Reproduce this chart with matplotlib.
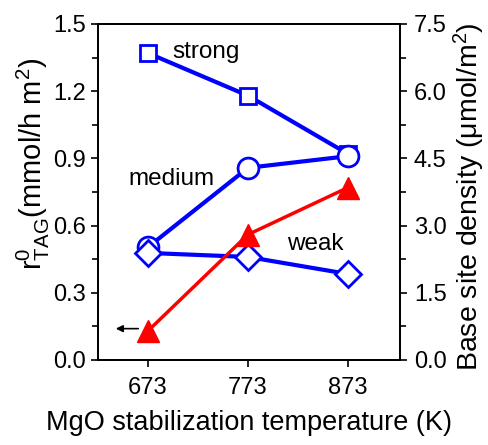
import matplotlib
matplotlib.use("Agg")
import matplotlib.pyplot as plt
from matplotlib.ticker import MultipleLocator

plt.rcParams['font.family'] = ['Liberation Sans', 'DejaVu Sans']
plt.rcParams['mathtext.fontset'] = 'custom'
plt.rcParams['mathtext.rm'] = 'Liberation Sans'
plt.rcParams['mathtext.it'] = 'Liberation Sans'

temps = [673, 773, 873]
rate_tag = [0.13, 0.56, 0.77]
strong = [6.85, 5.90, 4.60]
medium = [2.52, 4.29, 4.55]
weak = [2.39, 2.30, 1.92]

fig = plt.figure(figsize=(4.88, 4.45), dpi=100)
ax = fig.add_axes([98/488, 1-360/445, 302/488, 336/445])
ax2 = ax.twinx()

ax.plot(temps, rate_tag, color='red', lw=2.5, marker='^', ms=16, mfc='red', mec='red', zorder=3)
ax2.plot(temps, strong, color='blue', lw=3, marker='s', ms=12, mfc='white', mec='blue', mew=2)
ax2.plot(temps, medium, color='blue', lw=3, marker='o', ms=15, mfc='white', mec='blue', mew=2)
ax2.plot(temps, weak, color='blue', lw=3, marker='D', ms=13, mfc='white', mec='blue', mew=2)
ax.set_zorder(ax2.get_zorder() + 1)
ax.patch.set_visible(False)

ax.set_xlim(623, 925)
ax.set_ylim(0, 1.5)
ax2.set_ylim(0, 7.5)
ax.set_xticks(temps)
ax.yaxis.set_major_locator(MultipleLocator(0.3))
ax.yaxis.set_minor_locator(MultipleLocator(0.15))
ax2.yaxis.set_major_locator(MultipleLocator(1.5))
ax2.yaxis.set_minor_locator(MultipleLocator(0.75))
ax.yaxis.set_major_formatter(plt.FormatStrFormatter('%.1f'))
ax2.yaxis.set_major_formatter(plt.FormatStrFormatter('%.1f'))

for a in (ax, ax2):
    a.tick_params(which='major', direction='out', length=5, width=1.2, labelsize=17)
    a.tick_params(which='minor', direction='out', length=4, width=1.2)
    for s in a.spines.values():
        s.set_linewidth(1.3)
ax.tick_params(axis='x', pad=7)
ax2.tick_params(axis='y', pad=5)

ax.annotate('', xy=(638, 0.14), xytext=(666, 0.14),
            arrowprops=dict(arrowstyle='-|>', color='black', lw=1.2, mutation_scale=10))

ax2.text(731, 6.88, 'strong', fontsize=17.5, ha='center', va='center')
ax2.text(697, 4.05, 'medium', fontsize=17.5, ha='center', va='center')
ax2.text(840, 2.6, 'weak', fontsize=17.5, ha='center', va='center')

ax.set_xlabel('MgO stabilization temperature (K)', fontsize=19.5, labelpad=8)
ax.set_ylabel(r'r$^{0}_{\mathrm{TAG}}$(mmol/h m$^{2}$)', fontsize=21)
ax.yaxis.set_label_coords(-0.152, 0.585)
ax2.set_ylabel(r'Base site density ($\mu$mol/m$^{2}$)', fontsize=20.5)
ax2.yaxis.set_label_coords(1.17, 0.485)

fig.savefig('out.png', dpi=100)
